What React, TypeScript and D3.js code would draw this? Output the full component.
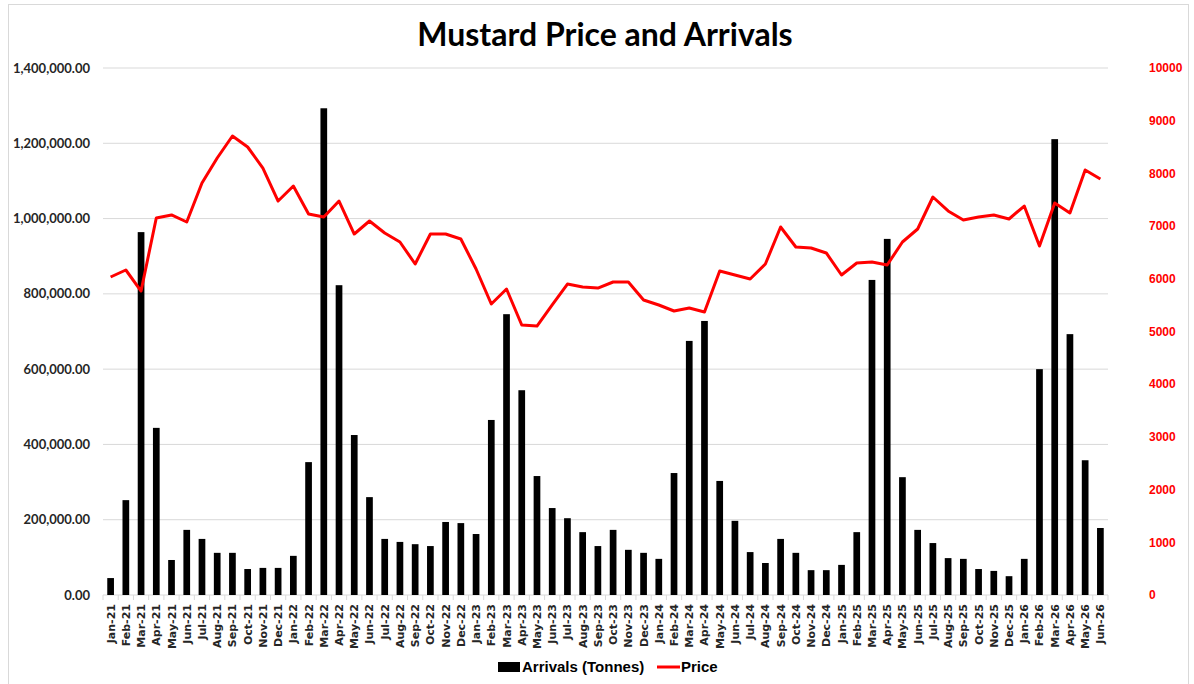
import React, { useEffect, useRef } from "react";
import * as d3 from "d3";

const months = [
  "Jan-21", "Feb-21", "Mar-21", "Apr-21", "May-21", "Jun-21", "Jul-21", "Aug-21", "Sep-21", "Oct-21", "Nov-21", "Dec-21",
  "Jan-22", "Feb-22", "Mar-22", "Apr-22", "May-22", "Jun-22", "Jul-22", "Aug-22", "Sep-22", "Oct-22", "Nov-22", "Dec-22",
  "Jan-23", "Feb-23", "Mar-23", "Apr-23", "May-23", "Jun-23", "Jul-23", "Aug-23", "Sep-23", "Oct-23", "Nov-23", "Dec-23",
  "Jan-24", "Feb-24", "Mar-24", "Apr-24", "May-24", "Jun-24", "Jul-24", "Aug-24", "Sep-24", "Oct-24", "Nov-24", "Dec-24",
  "Jan-25", "Feb-25", "Mar-25", "Apr-25", "May-25", "Jun-25", "Jul-25", "Aug-25", "Sep-25", "Oct-25", "Nov-25", "Dec-25",
  "Jan-26", "Feb-26", "Mar-26", "Apr-26", "May-26", "Jun-26",
];

// arrivals in tonnes
const arrivals = [
  45000, 252000, 964000, 444000, 93000, 173000, 149000, 112000, 112000, 69000, 72000, 72000,
  104000, 353000, 1293000, 823000, 425000, 260000, 149000, 141000, 135000, 130000, 194000, 191000,
  162000, 465000, 746000, 544000, 316000, 231000, 204000, 167000, 130000, 173000, 120000, 112000,
  96000, 324000, 675000, 728000, 303000, 197000, 114000, 85000, 149000, 112000, 66000, 66000,
  80000, 167000, 837000, 946000, 313000, 173000, 138000, 98000, 96000, 69000, 64000, 50000,
  96000, 600000, 1211000, 693000, 358000, 178000,
];

const price = [
  6034, 6167, 5768, 7154, 7211, 7078, 7818, 8292, 8710, 8501, 8102, 7476,
  7761, 7230, 7173, 7476, 6850, 7097, 6869, 6698, 6281, 6850, 6850, 6755,
  6186, 5522, 5806, 5123, 5104, 5503, 5901, 5844, 5825, 5939, 5939, 5598,
  5503, 5389, 5446, 5370, 6148, 6072, 5996, 6281, 6983, 6603, 6584, 6490,
  6072, 6300, 6319, 6262, 6698, 6945, 7552, 7287, 7116, 7173, 7211, 7135,
  7381, 6622, 7438, 7249, 8064, 7894,
];

const leftTicks = [0, 200000, 400000, 600000, 800000, 1000000, 1200000, 1400000];
const rightTicks = [0, 1000, 2000, 3000, 4000, 5000, 6000, 7000, 8000, 9000, 10000];

export default function App() {
  const ref = useRef<SVGSVGElement | null>(null);

  useEffect(() => {
    if (!ref.current) return;
    const svg = d3.select(ref.current);
    svg.selectAll("*").remove();

    const width = 1194;
    const height = 684;
    const m = { left: 103, right: 1108, top: 68, bottom: 595 };
    const font = "Lato, 'DejaVu Sans', sans-serif";
    const font2 = "'Liberation Sans', Arial, sans-serif";

    const x = d3.scaleBand<string>().domain(months).range([m.left, m.right]).paddingInner(0.56).paddingOuter(0.28);
    const yL = d3.scaleLinear().domain([0, 1400000]).range([m.bottom, m.top]);
    const yR = d3.scaleLinear().domain([0, 10000]).range([m.bottom, m.top]);

    svg.append("rect").attr("x", 0).attr("y", 0).attr("width", width).attr("height", height).attr("fill", "#fff");
    svg.append("rect").attr("x", 8.5).attr("y", 4.5).attr("width", width - 14).attr("height", height - 2)
      .attr("fill", "none").attr("stroke", "#d9d9d9");

    // gridlines
    svg.append("g").selectAll("line").data(leftTicks.slice(1)).join("line")
      .attr("x1", m.left).attr("x2", m.right)
      .attr("y1", (d) => yL(d)).attr("y2", (d) => yL(d))
      .attr("stroke", "#d9d9d9").attr("stroke-width", 1);

    // baseline and category ticks
    svg.append("line").attr("x1", m.left).attr("x2", m.right).attr("y1", m.bottom).attr("y2", m.bottom)
      .attr("stroke", "#d9d9d9");
    const edges = d3.range(months.length + 1).map((i) => m.left + i * ((m.right - m.left) / months.length));
    svg.append("g").selectAll("line").data(edges).join("line")
      .attr("x1", (d) => d).attr("x2", (d) => d).attr("y1", m.bottom).attr("y2", m.bottom + 5)
      .attr("stroke", "#d9d9d9");

    // left axis labels
    svg.append("g").selectAll("text").data(leftTicks).join("text")
      .attr("x", 90).attr("y", (d) => yL(d)).attr("dy", "0.35em")
      .attr("text-anchor", "end").attr("font-family", font).attr("font-weight", 700)
      .attr("font-size", 13).attr("fill", "#262626")
      .text((d) => d3.format(",.2f")(d));

    // right axis labels
    svg.append("g").selectAll("text").data(rightTicks).join("text")
      .attr("x", 1149).attr("y", (d) => yR(d)).attr("dy", "0.35em")
      .attr("text-anchor", "start").attr("font-family", font2).attr("font-weight", 700)
      .attr("font-size", 12).attr("fill", "#ff0000")
      .text((d) => String(d));

    // bars
    svg.append("g").selectAll("rect").data(arrivals).join("rect")
      .attr("x", (_, i) => x(months[i])!)
      .attr("width", x.bandwidth())
      .attr("y", (d) => yL(d))
      .attr("height", (d) => m.bottom - yL(d))
      .attr("fill", "#000");

    // price line
    const line = d3.line<number>()
      .x((_, i) => x(months[i])! + x.bandwidth() / 2)
      .y((d) => yR(d));
    svg.append("path").datum(price).attr("d", line).attr("fill", "none")
      .attr("stroke", "#ff0000").attr("stroke-width", 3).attr("stroke-linejoin", "round");

    // x labels
    svg.append("g").selectAll("text").data(months).join("text")
      .attr("transform", (d) => `translate(${x(d)! + x.bandwidth() / 2 + 4},604) rotate(-90)`)
      .attr("text-anchor", "end").attr("font-family", "'DejaVu Sans', sans-serif").attr("font-weight", 700)
      .attr("font-size", 11).attr("fill", "#262626")
      .text((d) => d);

    // title
    svg.append("text").attr("x", 605).attr("y", 46).attr("text-anchor", "middle")
      .attr("font-family", font).attr("font-weight", 700).attr("font-size", 32).attr("fill", "#000")
      .text("Mustard Price and Arrivals");

    // legend
    const lg = svg.append("g").attr("font-family", font2).attr("font-weight", 700).attr("font-size", 15).attr("fill", "#000");
    lg.append("rect").attr("x", 498).attr("y", 662).attr("width", 22).attr("height", 10).attr("fill", "#000");
    lg.append("text").attr("x", 522).attr("y", 672).text("Arrivals (Tonnes)");
    lg.append("line").attr("x1", 657).attr("x2", 680).attr("y1", 667).attr("y2", 667)
      .attr("stroke", "#ff0000").attr("stroke-width", 3);
    lg.append("text").attr("x", 681).attr("y", 672).text("Price");
  }, []);

  return (
    <div style={{ position: "fixed", left: 0, top: 0 }}>
      <svg ref={ref} width={1194} height={684} style={{ display: "block" }} />
    </div>
  );
}
